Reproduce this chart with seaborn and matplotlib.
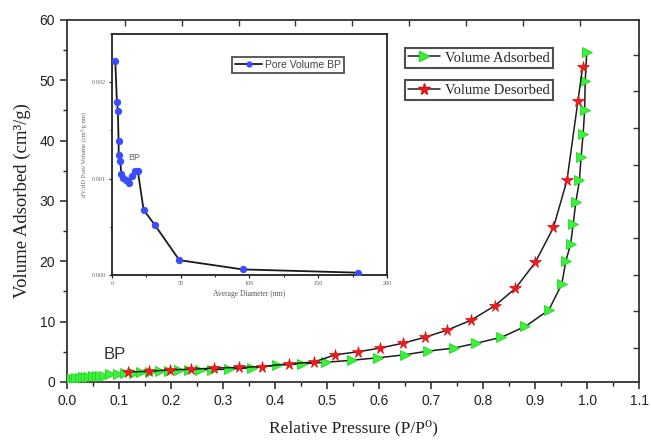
import numpy as np
import matplotlib
matplotlib.use("Agg")
import matplotlib.pyplot as plt
import seaborn as sns
from matplotlib.lines import Line2D
from matplotlib.ticker import MultipleLocator

# Nitrogen adsorption branch: relative pressure (P/P0) and volume adsorbed (cm3/g)
p_ads = [0.004, 0.008, 0.013, 0.018, 0.024, 0.030, 0.036, 0.043, 0.050, 0.057,
         0.064, 0.071, 0.082, 0.097, 0.112, 0.128, 0.143, 0.160, 0.178, 0.196,
         0.215, 0.235, 0.256, 0.279, 0.311, 0.355, 0.403, 0.451, 0.498, 0.548,
         0.598, 0.649, 0.693, 0.743, 0.786, 0.835, 0.881, 0.926, 0.951, 0.959,
         0.968, 0.973, 0.978, 0.985, 0.988, 0.992, 0.995, 0.996, 0.999]
v_ads = [0.35, 0.45, 0.55, 0.62, 0.68, 0.74, 0.80, 0.86, 0.91, 0.96,
         1.00, 1.05, 1.25, 1.35, 1.45, 1.55, 1.62, 1.70, 1.78, 1.86,
         1.94, 1.98, 2.02, 2.05, 2.10, 2.35, 2.75, 3.00, 3.25, 3.60,
         4.00, 4.50, 5.10, 5.60, 6.40, 7.40, 9.20, 11.9, 16.2, 20.1,
         22.8, 26.2, 29.8, 33.4, 37.2, 41.0, 45.1, 49.8, 54.6]

# Desorption branch
p_des = [0.991, 0.982, 0.961, 0.935, 0.900, 0.862, 0.822, 0.776, 0.731, 0.688,
         0.645, 0.601, 0.560, 0.516, 0.474, 0.426, 0.374, 0.330, 0.283, 0.239,
         0.197, 0.158, 0.117]
v_des = [52.1, 46.5, 33.4, 25.6, 19.8, 15.5, 12.6, 10.2, 8.6, 7.4,
         6.4, 5.6, 5.0, 4.5, 3.3, 3.0, 2.55, 2.4, 2.3, 2.1,
         2.0, 1.75, 1.65]

# BJH pore size distribution: average diameter (nm) and dV/dD pore volume
d_pore = [2.4, 3.6, 4.3, 4.8, 4.9, 6.0, 6.8, 8.0, 9.9, 12.3,
          14.7, 17.1, 18.8, 23.0, 31.4, 49.0, 95.0, 179.0]
dv_pore = [0.00222, 0.00179, 0.00170, 0.00139, 0.00124, 0.00118, 0.00105, 0.00101,
           0.00098, 0.00095, 0.00103, 0.00108, 0.00108, 0.000675, 0.000514,
           0.000154, 0.000058, 0.000024]

x_ticks = [0.0, 0.1, 0.2, 0.3, 0.4, 0.5, 0.6, 0.7, 0.8, 0.9, 1.0, 1.1]
y_ticks = [0, 10, 20, 30, 40, 50, 60]
inset_x_ticks = [0, 50, 100, 150, 200]
inset_y_ticks = [0.000, 0.001, 0.002]

sns.set_style("ticks")
plt.rcParams["font.family"] = ["Liberation Sans", "DejaVu Sans"]
SERIF = ["Liberation Serif", "DejaVu Serif"]

fig = plt.figure(figsize=(6.51, 4.40), dpi=100)
ax = fig.add_axes([0.103, 0.132, 0.879, 0.823])

line_col = "#1e1e1e"
green = "#3df03d"
red = "#ee1c1c"

sns.lineplot(x=p_ads, y=v_ads, ax=ax, sort=False, estimator=None, color=line_col,
             linewidth=1.1, marker=">", markersize=6.5, markerfacecolor=green,
             markeredgecolor="#22d822", markeredgewidth=0.6, zorder=3)
sns.lineplot(x=p_des, y=v_des, ax=ax, sort=False, estimator=None, color=line_col,
             linewidth=1.1, marker="*", markersize=8.5, markerfacecolor=red,
             markeredgecolor="#d81010", markeredgewidth=0.5, zorder=3)

ax.set_xlim(0, 1.1)
ax.set_ylim(0, 60)
ax.set_xticks(x_ticks)
ax.set_xticklabels([f"{t:.1f}" for t in x_ticks])
ax.set_yticks(y_ticks)
ax.xaxis.set_minor_locator(MultipleLocator(0.05))
ax.yaxis.set_minor_locator(MultipleLocator(5))
ax.tick_params(which="major", direction="out", length=5, width=1.1, labelsize=10,
               colors="#222222")
ax.tick_params(which="minor", direction="out", length=3, width=1.0, colors="#222222")
for s in ax.spines.values():
    s.set_visible(True)
    s.set_linewidth(1.3)
    s.set_color("#333333")

ax.set_xlabel("Relative Pressure (P/P⁰)", family=SERIF, fontsize=12.5, labelpad=9,
              color="#222222")
ax.set_ylabel("Volume Adsorbed (cm³/g)", family=SERIF, fontsize=13.5, labelpad=6,
              color="#222222")

# inward ticks on the top and right frame
top = ax.twiny()
top.set_xlim(0, 1.1)
top.set_xticks(np.arange(0.1108, 1.0, 0.1094))
top.tick_params(axis="x", direction="in", length=4, width=1.0, labeltop=False,
                colors="#333333")
right = ax.twinx()
right.set_ylim(0, 60)
right.set_yticks(np.arange(5.6, 58, 6.08))
right.tick_params(axis="y", direction="in", length=4, width=1.0, labelright=False,
                  colors="#333333")
for a in (top, right):
    for s in a.spines.values():
        s.set_visible(False)

ax.text(0.0917, 4.6, "BP", fontsize=12, color="#333333", ha="center", va="center")

# two separate legend boxes
h_ads = Line2D([], [], color=line_col, linewidth=1.1, marker=">", markersize=6.5,
               markerfacecolor=green, markeredgecolor="#22d822")
h_des = Line2D([], [], color=line_col, linewidth=1.1, marker="*", markersize=8.5,
               markerfacecolor=red, markeredgecolor="#d81010")
leg_kw = dict(frameon=True, fancybox=False, handlelength=2.2, handletextpad=0.3,
              borderpad=0.25, borderaxespad=0, prop={"family": SERIF, "size": 10.5})
leg1 = ax.legend([h_ads], ["Volume Adsorbed"], loc="upper left",
                 bbox_to_anchor=(0.59, 0.923), **leg_kw)
leg1.get_frame().set_edgecolor("#222222")
leg1.get_frame().set_linewidth(1.5)
ax.add_artist(leg1)
leg2 = ax.legend([h_des], ["Volume Desorbed"], loc="upper left",
                 bbox_to_anchor=(0.59, 0.834), **leg_kw)
leg2.get_frame().set_edgecolor("#222222")
leg2.get_frame().set_linewidth(1.5)

# inset: pore size distribution
ins = fig.add_axes([0.172, 0.375, 0.4224, 0.548])
ins.set_facecolor("white")
sns.lineplot(x=d_pore, y=dv_pore, ax=ins, sort=False, estimator=None, color="#1a1a1a",
             linewidth=1.3, marker="o", markersize=4.5, markerfacecolor="#3a4cff",
             markeredgecolor="#3a4cff", zorder=3)
ins.set_xlim(0, 200)
ins.set_ylim(0, 0.0025)
ins.set_xticks(inset_x_ticks)
ins.set_yticks(inset_y_ticks)
ins.set_yticklabels([f"{t:.3f}" for t in inset_y_ticks])
ins.xaxis.set_minor_locator(MultipleLocator(25))
ins.yaxis.set_minor_locator(MultipleLocator(0.0005))
ins.tick_params(which="major", direction="out", length=2.5, width=0.9, labelsize=4.5,
                labelcolor="#666666", pad=2)
ins.tick_params(which="minor", direction="out", length=1.5, width=0.8)
for s in ins.spines.values():
    s.set_visible(True)
    s.set_linewidth(1.3)
    s.set_color("#222222")
for lab in ins.get_xticklabels() + ins.get_yticklabels():
    lab.set_family(SERIF)
ins.set_xlabel("Average Diameter (nm)", family=SERIF, fontsize=5.5, color="#555555",
               labelpad=3)
ins.set_ylabel("dV/dD Pore Volume (cm³/g nm)", family=SERIF, fontsize=4.8,
               color="#666666", labelpad=3)
ins.text(16, 0.00122, "BP", fontsize=6.5, color="#666666", ha="center", va="center")

h_pore = Line2D([], [], color="#1a1a1a", linewidth=1.3, marker="o", markersize=3.5,
                markerfacecolor="#3a4cff", markeredgecolor="#3a4cff")
leg3 = ins.legend([h_pore], ["Pore Volume BP"], loc="upper left",
                  bbox_to_anchor=(0.436, 0.905), frameon=True, fancybox=False,
                  handlelength=2.6, handletextpad=0.3, borderpad=0.3, borderaxespad=0,
                  prop={"size": 7.5})
leg3.get_frame().set_edgecolor("#222222")
leg3.get_frame().set_linewidth(1.3)
for t in leg3.get_texts():
    t.set_color("#444444")

fig.savefig("out.png", dpi=100)
